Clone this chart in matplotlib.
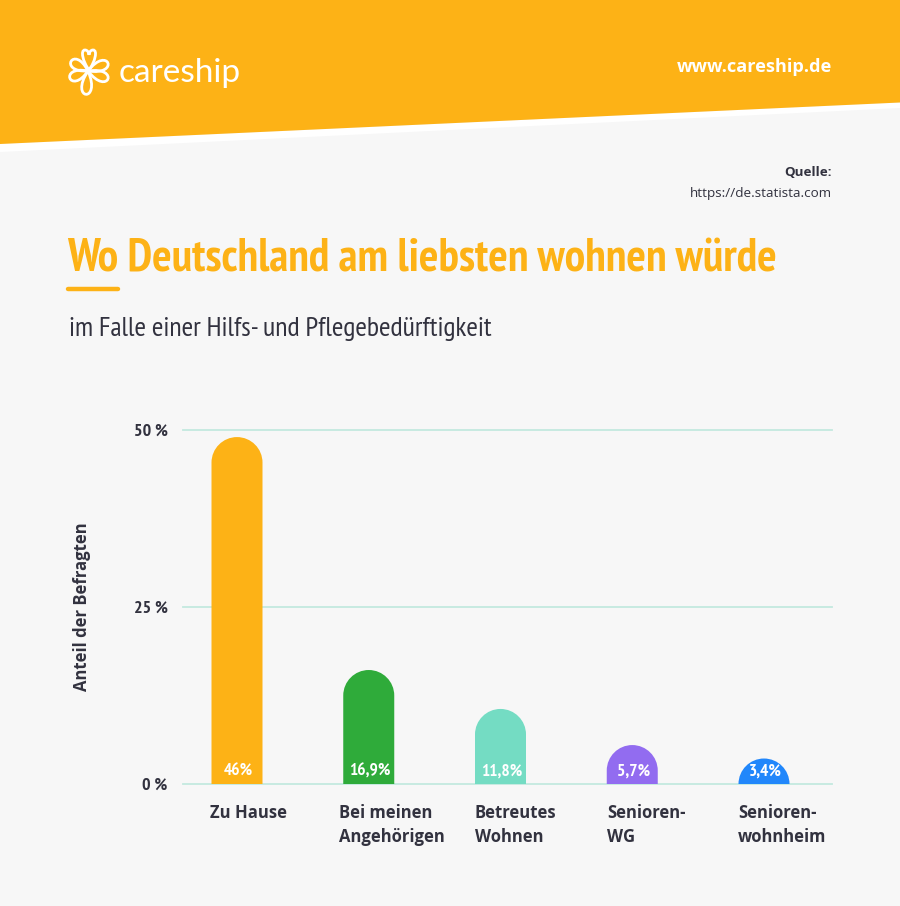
import numpy as np
import matplotlib
matplotlib.use("Agg")
import matplotlib.pyplot as plt
from matplotlib.patches import Polygon, PathPatch
from matplotlib.path import Path

# data
categories = ["Zu Hause", "Bei meinen\nAngehörigen", "Betreutes\nWohnen", "Senioren-\nWG", "Senioren-\nwohnheim"]
bar_heights = [49.0, 16.1, 10.6, 5.5, 3.6]  # height as drawn in the picture
bar_labels = ["46%", "16,9%", "11,8%", "5,7%", "3,4%"]
bar_colors = ["#fdb216", "#2fab3a", "#74dcc3", "#926cf0", "#2187fb"]
y_ticks = [0, 25, 50]
y_tick_labels = ["0 %", "25 %", "50 %"]

YELLOW = "#fdb216"
DARK = "#32323f"
BG = "#f7f7f7"
NARROW = ["PT Sans Narrow", "Open Sans"]

fig = plt.figure(figsize=(9, 9.06), dpi=100, facecolor=BG)

# whole page in pixels, for banner and text
bg = fig.add_axes([0, 0, 1, 1])
bg.set_xlim(0, 900)
bg.set_ylim(906, 0)
bg.axis("off")

bg.add_patch(Polygon([(0, 144), (900, 102.5), (900, 108), (0, 152)], closed=True, fc="white", ec="none"))
bg.add_patch(Polygon([(0, 0), (900, 0), (900, 102.5), (0, 144)], closed=True, fc=YELLOW, ec="none"))


# logo, a few loops around one centre
def loop(cx, cy, angle, length, width):
    a = np.radians(angle)
    d = np.array([np.cos(a), -np.sin(a)])
    n = np.array([-d[1], d[0]])
    c = np.array([cx, cy])
    verts = [c, c + d * length * 1.3 + n * width, c + d * length * 1.3 - n * width, c]
    return PathPatch(Path(verts, [Path.MOVETO, Path.CURVE4, Path.CURVE4, Path.CURVE4]),
                     fc="none", ec="white", lw=2.0, capstyle="round")


for ang, ln, w in [(150, 20, 17), (202, 20, 17), (265, 24, 17), (338, 22, 17), (22, 22, 17)]:
    bg.add_patch(loop(88, 71, ang, ln, w))
heart = [(89, 70), (83, 62), (80, 50), (85, 50), (87, 50), (89, 52), (89, 55),
         (89, 52), (91, 50), (93, 50), (98, 50), (95, 62), (89, 70)]
bg.add_patch(PathPatch(Path(heart, [Path.MOVETO] + [Path.CURVE4] * 12), fc="none", ec="white", lw=2.0))

bg.text(119, 73, "careship", color="white", fontsize=24, family="Lato", va="center", ha="left")
bg.text(832, 67, "www.careship.de", color="white", fontsize=13.1, family="Open Sans", weight="bold", va="center", ha="right")

bg.text(832, 172, "Quelle:", color=DARK, fontsize=9.7, family="Open Sans", weight="bold", va="center", ha="right")
bg.text(832, 194, "https://de.statista.com", color=DARK, fontsize=9.7, family="Open Sans", va="center", ha="right")

bg.text(67, 260, "Wo Deutschland am liebsten wohnen würde", color=YELLOW, fontsize=33, family=NARROW, weight="bold", va="center", ha="left")
bg.plot([68, 118], [289, 289], color=YELLOW, lw=3.2, solid_capstyle="round")
bg.text(69, 329, "im Falle einer Hilfs- und Pflegebedürftigkeit", color=DARK, fontsize=20.2, family=NARROW, va="center", ha="left")

bg.text(82, 607, "Anteil der Befragten", color=DARK, fontsize=12, family="Open Sans", weight="bold", rotation=90, va="center", ha="center")

# chart, axes box placed so that 0 and 50 land on the gridlines
ax = fig.add_axes([183 / 900, 1 - 784 / 906, (832 - 183) / 900, (784 - 430) / 906])
ax.patch.set_alpha(0)
x = np.arange(len(categories))
bar_w = 51 / 131.75
ax.set_xlim(-54 / 131.75, 4 + 68 / 131.75)
ax.set_ylim(0, 50)
cap_h = (bar_w / 2) * 131.75 / (354 / 50)  # cap radius in y units
k = 0.5523

for i in x:
    h = bar_heights[i]
    l, r = i - bar_w / 2, i + bar_w / 2
    s = h - cap_h
    verts = [(l, 0), (l, s), (l, s + k * cap_h), (i - k * bar_w / 2, h), (i, h),
             (i + k * bar_w / 2, h), (r, s + k * cap_h), (r, s), (r, 0), (l, 0)]
    codes = [Path.MOVETO, Path.LINETO, Path.CURVE4, Path.CURVE4, Path.CURVE4,
             Path.CURVE4, Path.CURVE4, Path.CURVE4, Path.LINETO, Path.CLOSEPOLY]
    ax.add_patch(PathPatch(Path(verts, codes), fc=bar_colors[i], ec="none", zorder=3))
    ax.annotate(bar_labels[i], (i, 0), xytext=(1, 9), textcoords="offset points", color="white", fontsize=12.5,
                family=NARROW, weight="bold", ha="center", va="center", zorder=4)

for s in ax.spines.values():
    s.set_visible(False)
ax.set_yticks(y_ticks)
ax.set_yticklabels(y_tick_labels, fontsize=13, family=NARROW, weight="bold", color=DARK)
ax.tick_params(axis="y", length=0, pad=11)
ax.grid(axis="y", color="#c3e9df", lw=1.3, zorder=1, clip_on=False)
ax.set_axisbelow(True)

ax.set_xticks([])
left_px = [210, 339, 475, 607, 738]
for i, lab in enumerate(categories):
    bg.text(left_px[i], 813.5, lab.split("\n")[0], color=DARK, fontsize=12, family="Open Sans", weight="bold", va="center", ha="left")
    if "\n" in lab:
        bg.text(left_px[i], 836.5, lab.split("\n")[1], color=DARK, fontsize=12, family="Open Sans", weight="bold", va="center", ha="left")

fig.savefig("out.png", dpi=100, facecolor=BG)
